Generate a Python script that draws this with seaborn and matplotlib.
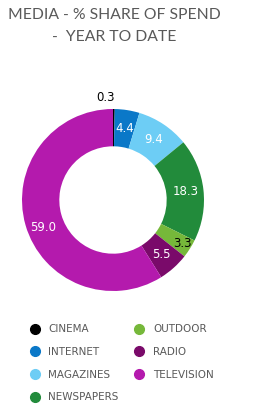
import numpy as np
import matplotlib
matplotlib.use('Agg')
import matplotlib.pyplot as plt
import seaborn as sns
from matplotlib.lines import Line2D

sns.set_style("white")
plt.rcParams['font.family'] = ['DejaVu Sans']

media = ['CINEMA', 'INTERNET', 'MAGAZINES', 'NEWSPAPERS', 'OUTDOOR', 'RADIO', 'TELEVISION']
share = [0.3, 4.4, 9.4, 18.3, 3.3, 5.5, 59.0]
colors = ['#000000', '#0a78c8', '#6dcdf5', '#228b3b', '#76b83a', '#7a0a6a', '#b41aad']
label_colors = ['black', 'white', 'white', 'white', 'black', 'white', 'white']

W, H = 263, 411
fig = plt.figure(figsize=(W / 100, H / 100), dpi=100)

cx, cy, r = 113, 200, 91
ax = fig.add_axes([(cx - r) / W, (H - cy - r) / H, 2 * r / W, 2 * r / H])

wedges, _ = ax.pie(share, colors=colors, startangle=90, counterclock=False,
                   radius=1, wedgeprops=dict(width=0.41, edgecolor='none'))
ax.set_xlim(-1, 1)
ax.set_ylim(-1, 1)
ax.set_aspect('equal')
ax.axis('off')

# value labels placed from wedge angles
for w, v, c in zip(wedges, share, label_colors):
    ang = np.deg2rad((w.theta1 + w.theta2) / 2)
    d = 0.8
    dx, dy = 0, 0
    if v < 1:
        d = 1.13
        dx = -0.09
    elif v < 4:
        d = 0.9
    elif v > 50:
        dy = -0.08
    ax.text(d * np.cos(ang) + dx, d * np.sin(ang) + dy, f'{v:.1f}', color=c,
            ha='center', va='center', fontsize=8.5)

fig.text(8 / W, 1 - 8 / H, 'MEDIA - % SHARE OF SPEND', fontsize=11.3,
         color='#595959', family=['Lato', 'DejaVu Sans'], va='top', ha='left')
fig.text(52 / W, 1 - 30 / H, '-  YEAR TO DATE', fontsize=11.3,
         color='#595959', family=['Lato', 'DejaVu Sans'], va='top', ha='left')

handles = [Line2D([0], [0], marker='o', linestyle='none', markersize=7,
                  markerfacecolor=c, markeredgecolor=c) for c in colors]
fig.legend(handles, media, ncol=2, loc='upper left',
           bbox_to_anchor=(20 / W, 1 - 315 / H), frameon=False,
           fontsize=7.5, labelcolor='#595959', handletextpad=0.8,
           columnspacing=1.5, labelspacing=1.22, handlelength=1.0)

fig.savefig('out.png', dpi=100)
